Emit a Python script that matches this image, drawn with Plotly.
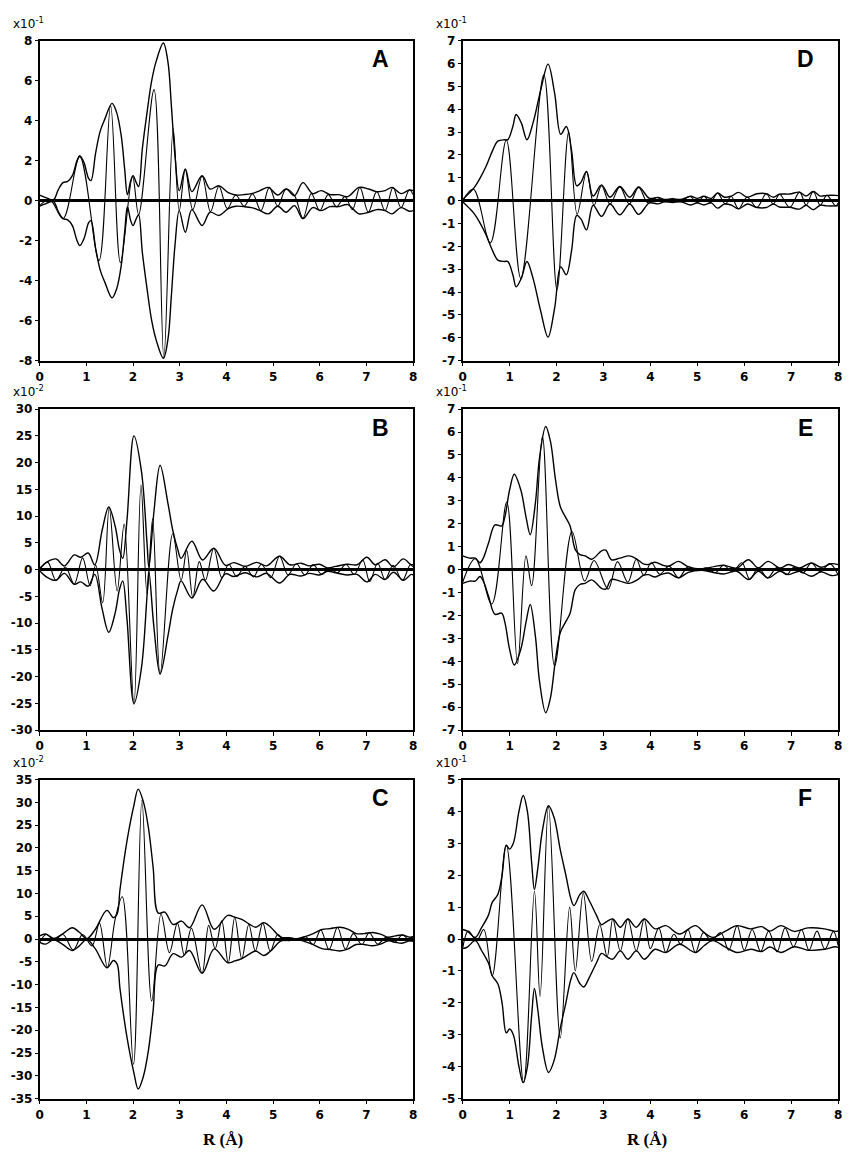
import plotly.graph_objects as go

# ---------------- Panel A (x10^-1) ----------------
env_A_R = [0.0, 0.1, 0.2, 0.3, 0.4, 0.5, 0.6, 0.7, 0.8, 0.86, 0.95, 1.05, 1.1, 1.2, 1.3, 1.4, 1.55, 1.65, 1.75,
           1.82, 1.88, 1.95, 2.0, 2.07, 2.12, 2.2, 2.3, 2.4, 2.5, 2.65, 2.75, 2.82, 2.9, 2.99, 3.12, 3.26, 3.48,
           3.65, 3.84, 4.04, 4.2, 4.37, 4.54, 4.72, 4.9, 5.1, 5.28, 5.46, 5.64, 5.85, 6.03, 6.22, 6.4, 6.6, 6.84,
           7.05, 7.22, 7.4, 7.55, 7.74, 7.92, 8.0]
env_A_V = [0.28, 0.18, 0.08, 0.05, 0.55, 0.9, 0.96, 1.25, 2.0, 2.25, 1.9, 1.1, 1.0, 2.4, 3.5, 4.1, 4.86, 4.4, 3.2,
           1.6, 0.3, 1.0, 1.25, 0.9, 0.7, 2.6, 4.4, 6.0, 7.0, 7.88, 6.9, 4.8, 2.2, 0.5, 1.58, 0.45, 1.24,
           0.58, 0.74, 0.4, 0.28, 0.3, 0.35, 0.5, 0.66, 0.28, 0.58, 0.25, 0.9, 0.35, 0.5, 0.3, 0.3, 0.2, 0.66,
           0.58, 0.45, 0.5, 0.66, 0.35, 0.53, 0.5]
im_A_R = [0.0, 0.22, 0.5, 0.86, 1.27, 1.52, 1.73, 1.99, 2.12, 2.45, 2.66, 2.86, 2.99, 3.12, 3.28, 3.48, 3.66,
          3.84, 4.02, 4.2, 4.38, 4.56, 4.74, 4.92, 5.1, 5.28, 5.46, 5.64, 5.82, 6.0, 6.18, 6.36, 6.54, 6.7, 6.86,
          7.04, 7.22, 7.4, 7.57, 7.74, 7.92, 8.0]
im_A_V = [-0.25, 0.05, -0.9, 2.2, -3.0, 4.75, -3.1, 1.2, -0.7, 5.55, -7.85, 3.6, -0.5, 1.55, -0.45, 1.22, -0.55,
          0.72, -0.4, 0.28, -0.28, 0.33, -0.5, 0.66, -0.28, 0.58, 0.25, -0.88, 0.35, -0.5, 0.3, -0.3, 0.2, -0.45,
          0.66, -0.58, 0.45, -0.5, 0.66, -0.35, 0.53, 0.3]

# ---------------- Panel B (x10^-2) ----------------
env_B_R = [0.0, 0.17, 0.35, 0.53, 0.74, 0.88, 1.04, 1.18, 1.34, 1.48, 1.62, 1.71, 1.78, 1.87, 2.02, 2.18, 2.3,
           2.34, 2.45, 2.58, 2.75, 2.85, 2.96, 3.03, 3.26, 3.49, 3.73, 3.98, 4.16, 4.4, 4.65, 4.86, 5.14, 5.36,
           5.6, 5.78, 5.99, 6.17, 6.34, 6.59, 6.8, 7.01, 7.19, 7.4, 7.58, 7.79, 7.96, 8.0]
env_B_V = [0.2, 1.5, 2.0, 0.7, 2.75, 2.3, 3.1, 0.9, 7.4, 11.7, 8.0, 3.7, 2.1, 9.2, 25.0, 18.4, 4.9,
           0.4, 11.0, 19.5, 12.3, 7.4, 3.7, 2.1, 5.3, 1.8, 4.0, 0.8, 1.3, 0.6, 1.35, 0.7, 2.5, 0.9,
           1.2, 0.7, 1.0, 0.3, 0.6, 1.0, 0.9, 2.3, 0.9, 1.85, 0.5, 2.0, 0.9, 1.0]
im_B_R = [0.0, 0.17, 0.35, 0.55, 0.74, 0.92, 1.08, 1.2, 1.35, 1.49, 1.66, 1.81, 2.02, 2.17, 2.3, 2.42, 2.58,
          2.85, 3.03, 3.15, 3.28, 3.42, 3.55, 3.73, 3.9, 4.05, 4.22, 4.4, 4.58, 4.75, 4.95, 5.14, 5.32, 5.5,
          5.68, 5.86, 6.04, 6.2, 6.38, 6.56, 6.74, 6.92, 7.07, 7.24, 7.4, 7.57, 7.77, 7.94, 8.0]
im_B_V = [0.0, 1.4, -2.0, 0.5, -2.7, 2.2, -3.0, 0.8, -6.2, 11.6, -4.0, 8.5, -25.2, 15.8, -4.5, 9.5, -19.5,
          6.7, -2.0, 3.6, -5.2, 1.5, -2.0, 4.0, -1.5, 1.0, -1.3, 0.6, -1.35, 1.0, -1.5, 2.5, -1.0, 1.1,
          -1.0, 0.9, -0.9, 0.3, -0.6, 1.0, -0.9, 1.8, -2.2, 1.2, -1.85, 0.8, -2.0, 0.9, 0.5]

# ---------------- Panel C (x10^-2) ----------------
env_C_R = [0.0, 0.13, 0.3, 0.5, 0.7, 0.85, 1.01, 1.19, 1.44, 1.58, 1.66, 1.72, 1.87, 2.02, 2.11, 2.22, 2.33,
           2.43, 2.54, 2.68, 2.86, 3.04, 3.21, 3.48, 3.74, 4.03, 4.18, 4.33, 4.49, 4.63, 4.8, 4.95, 5.17,
           5.35, 5.5, 5.7, 5.86, 6.05, 6.22, 6.43, 6.6, 6.78, 6.95, 7.13, 7.3, 7.47, 7.62, 7.76, 7.93, 8.0]
env_C_V = [0.7, 1.1, 0.15, 1.2, 2.5, 1.5, 0.1, 2.1, 6.3, 4.7, 5.5, 10.8, 21.5, 29.4, 32.9, 30.2, 24.4,
           15.8, 5.7, 5.9, 3.2, 3.95, 2.5, 7.5, 2.15, 5.2, 4.8, 4.3, 3.3, 2.6, 3.6, 2.6, 0.4,
           0.3, 0.05, 0.6, 1.2, 2.1, 2.3, 2.6, 2.2, 1.2, 1.2, 1.45, 1.1, 0.4, 0.7, 0.9, 0.4, 0.5]
im_C_R = [0.0, 0.14, 0.32, 0.5, 0.72, 0.92, 1.12, 1.28, 1.45, 1.62, 1.77, 2.01, 2.19, 2.4, 2.6, 2.78, 2.95,
          3.1, 3.25, 3.48, 3.62, 3.76, 3.9, 4.04, 4.18, 4.33, 4.48, 4.62, 4.78, 4.94, 5.1, 5.25, 5.4, 5.55,
          5.7, 5.86, 6.02, 6.2, 6.38, 6.55, 6.72, 6.9, 7.06, 7.24, 7.42, 7.6, 7.77, 7.94, 8.0]
im_C_V = [-0.7, 1.0, -0.15, 1.0, -2.4, 1.0, -1.5, 3.5, -6.2, 4.5, 9.3, -27.5, 30.5, -13.6, 5.5, -3.0, 3.5,
          -3.5, 2.4, -7.5, 3.0, -2.1, 4.0, -5.2, 4.8, -4.3, 3.2, -2.6, 3.5, -2.6, 1.0, -0.35, 0.15, -0.05,
          0.5, -1.2, 2.0, -2.3, 2.6, -2.2, 1.2, -1.2, 1.4, -1.1, 0.4, -0.7, 0.9, -0.4, 0.3]

# ---------------- Panel D (x10^-1) ----------------
env_D_R = [0.0, 0.15, 0.25, 0.36, 0.5, 0.64, 0.75, 0.89, 0.96, 1.07, 1.14, 1.25, 1.37, 1.5, 1.66, 1.82, 1.96,
           2.09, 2.21, 2.32, 2.43, 2.52, 2.64, 2.78, 2.96, 3.14, 3.35, 3.56, 3.75, 3.98, 4.16, 4.3, 4.47, 4.65,
           4.86, 5.0, 5.14, 5.3, 5.43, 5.58, 5.72, 5.88, 6.07, 6.27, 6.47, 6.62, 6.75, 6.97, 7.18, 7.32, 7.47,
           7.62, 7.76, 7.95, 8.0]
env_D_V = [0.05, 0.35, 0.58, 0.94, 1.5, 2.2, 2.6, 2.66, 2.66, 3.24, 3.77, 3.4, 2.66, 3.4, 4.8, 5.97, 4.7,
           2.9, 3.24, 2.2, 0.65, 0.8, 1.28, 0.2, 0.69, 0.15, 0.62, 0.15, 0.6, 0.1, 0.14, 0.05, 0.08, 0.05,
           0.19, 0.1, 0.19, 0.1, 0.33, 0.15, 0.19, 0.36, 0.15, 0.3, 0.3, 0.15, 0.28, 0.29, 0.37, 0.2, 0.4,
           0.2, 0.23, 0.23, 0.22]
im_D_R = [0.0, 0.23, 0.59, 0.93, 1.24, 1.73, 2.01, 2.26, 2.44, 2.64, 2.8, 2.96, 3.14, 3.35, 3.55, 3.75, 3.95,
          4.14, 4.3, 4.47, 4.65, 4.84, 5.0, 5.14, 5.28, 5.43, 5.6, 5.72, 5.88, 6.06, 6.27, 6.47, 6.62, 6.75,
          6.97, 7.18, 7.32, 7.47, 7.62, 7.76, 7.95, 8.0]
im_D_V = [0.0, 0.5, -1.85, 2.65, -3.4, 5.5, -3.9, 3.0, -0.6, 1.25, -0.2, 0.65, -0.15, 0.6, -0.15, 0.58, -0.1,
          0.14, -0.05, 0.08, -0.05, 0.19, -0.1, 0.19, -0.1, 0.33, -0.15, 0.19, -0.36, 0.15, -0.3, 0.3, -0.15,
          0.28, -0.29, 0.37, -0.2, 0.4, -0.2, 0.23, -0.23, -0.1]

# ---------------- Panel E (x10^-1) ----------------
env_E_R = [0.0, 0.15, 0.27, 0.37, 0.44, 0.55, 0.69, 0.83, 0.9, 1.0, 1.1, 1.24, 1.35, 1.44, 1.55, 1.64, 1.77,
           1.87, 1.98, 2.08, 2.19, 2.29, 2.4, 2.5, 2.61, 2.75, 2.96, 3.05, 3.17, 3.35, 3.55, 3.72, 3.85, 3.96,
           4.1, 4.25, 4.39, 4.6, 4.81, 5.1, 5.38, 5.56, 5.84, 6.09, 6.3, 6.51, 6.76, 6.94, 7.18, 7.43, 7.64,
           7.86, 8.0]
env_E_V = [0.6, 0.5, 0.5, 0.3, 0.5, 1.15, 1.95, 1.9, 2.3, 3.47, 4.16, 3.47, 2.3, 1.52, 2.9, 4.9, 6.24,
           5.6, 3.9, 2.75, 2.3, 1.9, 0.87, 0.65, 0.6, 0.45, 0.82, 0.85, 0.43, 0.5, 0.6, 0.45, 0.25, 0.22,
           0.32, 0.2, 0.15, 0.36, 0.12, 0.03, 0.14, 0.19, 0.07, 0.43, 0.07, 0.36, 0.07, 0.22, 0.07, 0.29, 0.1,
           0.26, 0.22]
im_E_R = [0.0, 0.27, 0.62, 0.94, 1.17, 1.35, 1.47, 1.7, 1.96, 2.33, 2.6, 2.8, 3.1, 3.3, 3.52, 3.7, 3.86, 4.02,
          4.2, 4.4, 4.6, 4.8, 5.0, 5.2, 5.38, 5.56, 5.75, 5.95, 6.12, 6.3, 6.5, 6.7, 6.9, 7.06, 7.25, 7.43,
          7.62, 7.82, 8.0]
im_E_V = [-0.55, 0.48, -1.5, 2.95, -4.1, 0.6, -0.7, 5.8, -4.2, 1.66, -0.5, 0.4, -0.85, 0.35, -0.55, 0.45,
          -0.25, 0.3, -0.2, 0.15, -0.36, 0.12, -0.03, 0.08, -0.14, 0.19, -0.1, 0.3, -0.43, 0.07, -0.36, 0.1,
          -0.22, 0.1, -0.15, 0.29, -0.1, 0.26, -0.22]

# ---------------- Panel F (x10^-1) ----------------
env_F_R = [0.0, 0.1, 0.27, 0.4, 0.55, 0.63, 0.75, 0.84, 0.93, 1.0, 1.08, 1.2, 1.29, 1.38, 1.47, 1.53, 1.6,
           1.7, 1.83, 1.95, 2.08, 2.2, 2.3, 2.37, 2.5, 2.58, 2.7, 2.85, 2.96, 3.07, 3.2, 3.36, 3.52, 3.7, 3.87,
           4.1, 4.33, 4.62, 4.96, 5.15, 5.33, 5.6, 5.85, 6.14, 6.37, 6.55, 6.78, 7.07, 7.36, 7.71, 7.94, 8.0]
env_F_V = [0.3, 0.25, 0.05, 0.35, 0.75, 1.15, 1.4, 2.0, 2.94, 2.82, 3.0, 4.0, 4.5, 4.0, 2.4, 1.55, 2.2,
           3.4, 4.18, 3.8, 2.8, 2.0, 1.3, 1.05, 1.4, 1.5, 1.2, 0.75, 0.45, 0.55, 0.63, 0.37, 0.63, 0.37, 0.63,
           0.32, 0.42, 0.16, 0.42, 0.2, 0.05, 0.25, 0.42, 0.32, 0.39, 0.25, 0.42, 0.24, 0.35, 0.32, 0.24, 0.26]
im_F_R = [0.0, 0.12, 0.3, 0.45, 0.63, 0.93, 1.3, 1.53, 1.65, 1.83, 2.08, 2.28, 2.4, 2.57, 2.75, 2.92, 3.08,
          3.2, 3.36, 3.52, 3.7, 3.87, 4.0, 4.18, 4.33, 4.5, 4.65, 4.8, 4.96, 5.13, 5.3, 5.5, 5.67, 5.85, 6.0,
          6.17, 6.35, 6.52, 6.7, 6.87, 7.05, 7.22, 7.38, 7.55, 7.72, 7.9, 8.0]
im_F_V = [-0.3, 0.25, -0.05, 0.3, -1.15, 2.94, -4.5, 1.5, -1.8, 4.15, -3.1, 1.0, -1.0, 1.45, -0.7, 0.45, -0.55,
          0.63, -0.37, 0.63, -0.37, 0.63, -0.3, 0.35, -0.42, 0.15, -0.16, 0.3, -0.42, 0.2, -0.05, 0.2, -0.35,
          0.42, -0.35, 0.3, -0.39, 0.25, -0.4, 0.35, -0.24, 0.3, -0.35, 0.25, -0.32, 0.24, -0.2]

# ---------------- Axes / labels ----------------
x_ticks = [0, 1, 2, 3, 4, 5, 6, 7, 8]
ticks_A = [-8, -6, -4, -2, 0, 2, 4, 6, 8]
ticks_B = [-30, -25, -20, -15, -10, -5, 0, 5, 10, 15, 20, 25, 30]
ticks_C = [-35, -30, -25, -20, -15, -10, -5, 0, 5, 10, 15, 20, 25, 30, 35]
ticks_D = [-7, -6, -5, -4, -3, -2, -1, 0, 1, 2, 3, 4, 5, 6, 7]
ticks_E = [-7, -6, -5, -4, -3, -2, -1, 0, 1, 2, 3, 4, 5, 6, 7]
ticks_F = [-5, -4, -3, -2, -1, 0, 1, 2, 3, 4, 5]

panels = [
    ("A", env_A_R, env_A_V, im_A_R, im_A_V, ticks_A, "-1", 0, 0),
    ("B", env_B_R, env_B_V, im_B_R, im_B_V, ticks_B, "-2", 0, 1),
    ("C", env_C_R, env_C_V, im_C_R, im_C_V, ticks_C, "-2", 0, 2),
    ("D", env_D_R, env_D_V, im_D_R, im_D_V, ticks_D, "-1", 1, 0),
    ("E", env_E_R, env_E_V, im_E_R, im_E_V, ticks_E, "-1", 1, 1),
    ("F", env_F_R, env_F_V, im_F_R, im_F_V, ticks_F, "-1", 1, 2),
]

W, H = 850, 1156
col_px = [(36, 413), (463, 842)]
row_px = [(34, 358), (407, 732), (782, 1105)]

fig = go.Figure()
annotations = []
layout = dict(width=W, height=H, margin=dict(l=0, r=0, t=0, b=0),
              paper_bgcolor="white", plot_bgcolor="white", showlegend=False)

font_ticks = dict(family="DejaVu Sans", size=12, color="black", weight="bold")
env_style = dict(color="black", width=1.4, shape="spline", smoothing=1.0)
im_style = dict(color="black", width=1.1, shape="spline", smoothing=1.0)

for i, (letter, eR, eV, iR, iV, yt, expo, col, row) in enumerate(panels):
    n = i + 1
    xa = "x" if n == 1 else f"x{n}"
    ya = "y" if n == 1 else f"y{n}"
    x0, x1 = col_px[col]
    t, b = row_px[row]
    ymax = yt[-1]
    fig.add_trace(go.Scatter(x=eR, y=eV, mode="lines", line=env_style, xaxis=xa, yaxis=ya, hoverinfo="skip"))
    fig.add_trace(go.Scatter(x=eR, y=[-v for v in eV], mode="lines", line=env_style, xaxis=xa, yaxis=ya,
                             hoverinfo="skip"))
    fig.add_trace(go.Scatter(x=iR, y=iV, mode="lines", line=im_style, xaxis=xa, yaxis=ya, hoverinfo="skip"))
    xkey = "xaxis" if n == 1 else f"xaxis{n}"
    ykey = "yaxis" if n == 1 else f"yaxis{n}"
    layout[xkey] = dict(domain=[x0 / W, x1 / W], range=[0, 8], anchor=ya,
                        tickmode="array", tickvals=x_ticks, ticktext=[str(v) for v in x_ticks],
                        ticks="outside", ticklen=4, tickwidth=1.2, tickcolor="black",
                        ticklabeloverflow="allow",
                        showline=True, linecolor="black", linewidth=1.6, mirror=True,
                        showgrid=False, zeroline=False, tickfont=font_ticks, fixedrange=True)
    layout[ykey] = dict(domain=[1 - b / H, 1 - t / H], range=[-ymax, ymax], anchor=xa,
                        tickmode="array", tickvals=yt, ticktext=[str(v) for v in yt],
                        ticks="outside", ticklen=3, tickwidth=1.2, tickcolor="black",
                        ticklabeloverflow="allow",
                        showline=True, linecolor="black", linewidth=1.6, mirror=True,
                        showgrid=False, zeroline=True, zerolinecolor="black", zerolinewidth=2.5,
                        tickfont=font_ticks, fixedrange=True)
    annotations.append(dict(x=(x0 - 29) / W, y=1 - (t - 18) / H, xref="paper", yref="paper",
                            text=f"x10<sup>{expo}</sup>", showarrow=False, xanchor="left", yanchor="middle",
                            font=dict(family="DejaVu Sans", size=12, color="black")))
    annotations.append(dict(x=(x1 - 33) / W, y=1 - (t + 19) / H, xref="paper", yref="paper",
                            text=f"<b>{letter}</b>", showarrow=False, xanchor="center", yanchor="middle",
                            font=dict(family="Liberation Sans", size=23, color="black")))

for (x0, x1) in col_px:
    annotations.append(dict(x=(x0 + x1) / 2 / W - 0.004, y=1 - 1146 / H, xref="paper", yref="paper",
                            text="<b>R (Å)</b>", showarrow=False, xanchor="center", yanchor="middle",
                            font=dict(family="Liberation Serif", size=17, color="black")))

layout["annotations"] = annotations
fig.update_layout(**layout)
fig.write_html("out.html", config={"displayModeBar": False},
               post_script="document.body.style.margin='0px';document.body.style.overflow='hidden';")
